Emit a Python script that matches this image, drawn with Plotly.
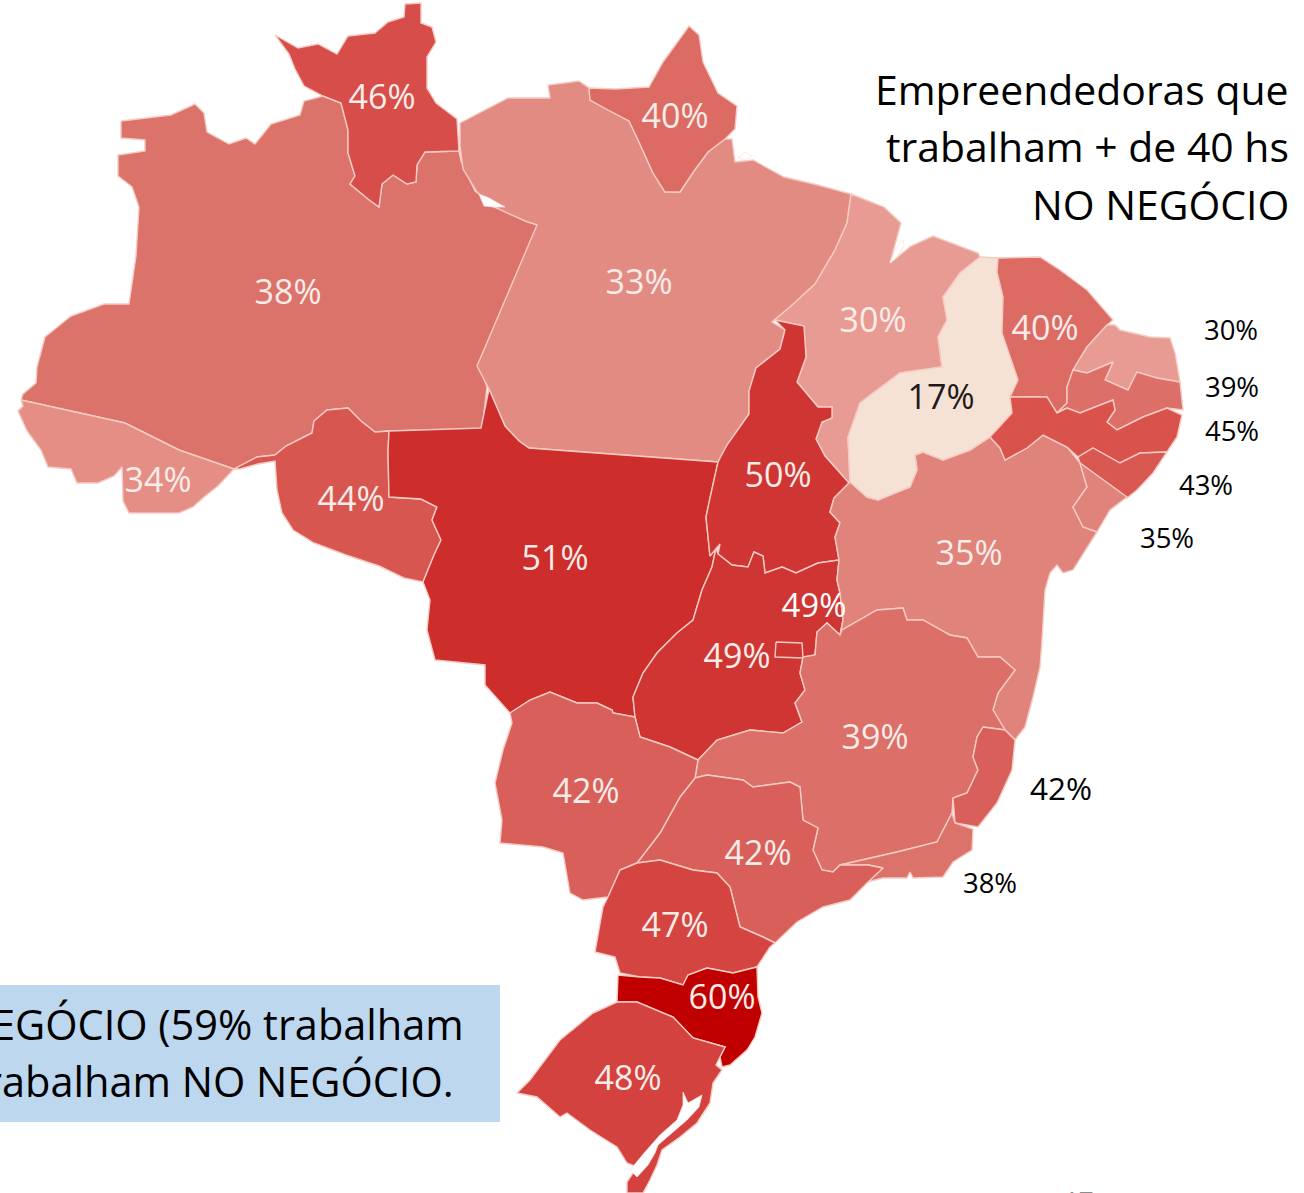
import plotly.graph_objects as go

# State outlines, in the picture's own 1304x1193 axis units
RR = [(275,35),(289,43),(298,48),(318,44),(337,54),(348,36),(375,33),(388,22),(404,17),(405,4),(421,3),(421,23),(432,27),(436,42),(427,57),(427,88),(436,103),(457,119),(459,151),(425,152),(417,165),(416,182),(407,184),(393,175),(382,184),(379,207),(368,199),(350,184),(355,176),(348,153),(348,130),(341,103),(323,96),(304,86),(295,69),(289,54)]
AM = [(121,121),(171,115),(195,104),(204,113),(207,132),(229,144),(246,138),(255,144),(271,124),(300,115),(304,101),(323,96),(341,103),(348,130),(348,153),(355,176),(350,184),(368,199),(379,207),(382,184),(393,175),(407,184),(416,182),(417,165),(425,152),(459,151),(461,161),(475,191),(500,209),(521,216),(539,226),(479,364),(487,387),(482,429),(389,431),(375,432),(361,421),(348,408),(327,410),(314,421),(312,433),(286,446),(275,455),(257,457),(234,469),(179,450),(125,423),(21,400),(23,394),(36,383),(37,367),(45,337),(71,316),(104,304),(129,304),(136,256),(139,207),(132,187),(118,176),(118,155),(145,151),(145,140),(121,138)]
AC = [(21,400),(125,423),(179,450),(234,469),(232,471),(218,486),(204,497),(193,507),(179,513),(129,513),(123,501),(122,467),(114,476),(98,483),(77,483),(71,469),(48,467),(41,450),(27,431),(18,411),(23,406)]
RO = [(275,455),(286,446),(312,433),(314,421),(327,410),(348,408),(361,421),(375,432),(389,431),(388,452),(389,497),(421,499),(437,507),(432,520),(441,540),(434,555),(423,582),(404,578),(379,566),(346,555),(314,543),(293,530),(282,513),(277,490),(275,461),(258,464),(240,469),(234,469),(257,457)]
AP = [(589,88),(615,89),(649,87),(663,62),(689,26),(699,35),(703,62),(718,93),(737,106),(735,129),(725,139),(708,152),(694,171),(680,192),(665,192),(653,173),(639,142),(629,121),(608,110),(590,100)]
PA = [(460,123),(481,112),(508,98),(550,98),(548,85),(579,81),(589,88),(590,100),(608,110),(629,121),(639,142),(653,173),(665,192),(680,192),(694,171),(708,152),(725,139),(732,139),(735,162),(753,160),(784,177),(818,185),(851,194),(847,223),(835,250),(815,284),(790,307),(772,322),(785,330),(780,349),(756,368),(749,391),(749,414),(727,445),(718,462),(529,448),(519,441),(505,426),(489,389),(477,366),(537,225),(525,221),(494,207),(477,192),(463,169),(460,146)]
MT = [(389,431),(481,428),(489,389),(505,426),(519,441),(529,448),(718,462),(710,498),(706,517),(710,556),(716,548),(712,567),(702,590),(693,620),(677,633),(657,653),(643,673),(633,697),(635,717),(613,713),(612,710),(597,703),(577,703),(550,692),(530,700),(510,713),(485,685),(485,665),(435,660),(427,630),(430,600),(423,582),(434,555),(441,540),(432,520),(437,507),(421,499),(389,497),(388,452)]
TO = [(775,320),(804,326),(806,357),(797,382),(818,407),(832,407),(832,418),(822,422),(816,439),(825,456),(849,483),(834,498),(830,512),(840,523),(835,537),(839,560),(818,563),(796,573),(782,567),(765,573),(763,556),(754,552),(748,567),(732,565),(718,554),(720,544),(710,556),(706,517),(710,498),(718,462),(727,445),(749,414),(749,391),(756,368),(780,349),(785,330)]
GO_ = [(718,554),(732,565),(748,567),(754,552),(763,556),(765,573),(782,567),(796,573),(818,563),(839,560),(837,580),(840,593),(843,620),(840,635),(827,623),(817,632),(815,655),(803,657),(800,673),(805,690),(795,703),(802,722),(783,733),(750,730),(717,740),(698,760),(670,747),(640,737),(635,717),(633,697),(643,673),(657,653),(677,633),(693,620),(702,590),(712,567),(716,548)]
DF = [(776,642),(802,643),(803,658),(775,657)]
MA = [(851,194),(884,207),(901,223),(890,263),(911,246),(933,236),(978,253),(980,257),(960,273),(943,297),(947,320),(938,337),(942,367),(900,373),(860,403),(848,437),(850,482),(849,483),(825,456),(816,439),(822,422),(832,418),(832,407),(818,407),(797,382),(806,357),(804,326),(775,320),(772,322),(790,307),(815,284),(835,250),(847,223)]
PI = [(980,257),(998,258),(997,272),(1003,297),(1002,333),(1018,380),(1010,397),(1012,413),(990,437),(970,450),(943,460),(923,452),(915,455),(917,470),(910,487),(878,500),(867,497),(850,482),(848,437),(860,403),(900,373),(942,367),(938,337),(947,320),(943,297),(960,273)]
CE = [(998,258),(1040,257),(1060,270),(1087,290),(1113,320),(1107,325),(1087,347),(1073,370),(1067,387),(1067,403),(1057,413),(1047,397),(1010,397),(1018,380),(1002,333),(1003,297),(997,272)]
RN = [(1073,370),(1087,347),(1107,325),(1115,325),(1120,330),(1150,337),(1170,338),(1175,353),(1180,382),(1157,378),(1137,372),(1128,390),(1105,380),(1113,362),(1087,373)]
PB = [(1057,413),(1067,403),(1067,387),(1073,370),(1087,373),(1113,362),(1105,380),(1128,390),(1137,372),(1157,378),(1180,382),(1183,410),(1167,408),(1143,417),(1117,430),(1107,422),(1115,410),(1113,400),(1080,413),(1067,408)]
PE = [(990,437),(1012,413),(1010,397),(1047,397),(1057,413),(1067,408),(1080,413),(1113,400),(1115,410),(1107,422),(1117,430),(1143,417),(1167,408),(1182,415),(1177,437),(1167,452),(1140,453),(1120,463),(1093,448),(1078,457),(1067,447),(1043,435),(1027,448),(1005,460),(1000,448)]
AL = [(1078,457),(1093,448),(1120,463),(1140,453),(1167,452),(1153,473),(1137,490),(1127,498),(1080,463)]
SE = [(1080,463),(1127,497),(1110,510),(1097,532),(1083,527),(1073,507),(1087,487)]
BA = [(850,482),(867,497),(878,500),(910,487),(917,470),(915,455),(923,452),(943,460),(970,450),(990,437),(1000,448),(1005,460),(1027,448),(1043,435),(1067,447),(1080,463),(1087,487),(1073,507),(1083,527),(1097,532),(1090,543),(1073,570),(1063,573),(1057,565),(1050,573),(1045,590),(1042,640),(1040,667),(1033,697),(1025,727),(1015,740),(1005,730),(993,710),(998,693),(1015,670),(1000,657),(978,657),(967,638),(950,635),(923,620),(907,620),(903,608),(877,610),(842,630),(840,635),(843,620),(840,593),(837,580),(839,560),(835,537),(840,523),(830,512),(834,498)]
MG = [(698,760),(717,740),(750,730),(783,733),(802,722),(795,703),(805,690),(800,673),(803,657),(815,655),(817,632),(827,623),(840,635),(842,630),(877,610),(903,608),(907,620),(923,620),(950,635),(967,638),(978,657),(1000,657),(1015,670),(998,693),(993,710),(1005,730),(983,727),(977,737),(973,757),(978,770),(967,793),(953,798),(952,813),(937,842),(897,852),(840,865),(833,872),(822,870),(813,850),(818,828),(803,820),(800,787),(790,782),(753,787),(743,780),(707,775),(695,778)]
ES = [(983,727),(1005,730),(1015,740),(1012,770),(997,803),(978,827),(955,823),(953,798),(967,793),(978,770),(973,757),(977,737)]
RJ = [(952,813),(955,823),(973,829),(972,850),(953,862),(943,877),(913,878),(910,872),(907,878),(883,878),(867,882),(883,868),(868,865),(840,865),(897,852),(937,842)]
SP = [(695,778),(707,775),(743,780),(753,787),(790,782),(800,787),(803,820),(818,828),(813,850),(822,870),(833,872),(840,865),(868,865),(883,868),(867,883),(850,900),(823,907),(797,922),(775,943),(763,937),(740,927),(730,887),(717,873),(693,870),(660,860),(637,863),(660,833),(680,797)]
MS = [(510,713),(530,700),(550,692),(577,703),(597,703),(612,710),(613,713),(635,717),(640,737),(670,747),(698,760),(695,778),(680,797),(660,833),(637,863),(620,870),(608,897),(583,900),(570,893),(563,853),(543,847),(500,843),(502,820),(495,783),(503,750),(512,723)]
PR = [(637,863),(660,860),(693,870),(717,873),(730,887),(740,927),(763,937),(775,943),(770,947),(757,967),(733,973),(707,968),(688,975),(683,985),(660,978),(640,977),(620,973),(615,957),(595,952),(603,907),(608,897),(620,870)]
SC = [(618,975),(640,977),(660,978),(683,985),(688,975),(707,968),(733,973),(757,967),(758,997),(762,1013),(755,1037),(747,1050),(730,1065),(722,1067),(720,1057),(725,1047),(693,1038),(673,1017),(637,1002),(617,1002)]
RS = [(617,1002),(637,1002),(673,1017),(693,1038),(725,1047),(720,1057),(716,1065),(722,1070),(713,1083),(710,1103),(697,1123),(680,1137),(662,1150),(657,1165),(650,1180),(643,1193),(627,1193),(627,1182),(637,1167),(627,1163),(617,1147),(590,1130),(567,1113),(560,1117),(537,1097),(517,1093),(530,1080),(560,1040),(593,1013)]
LAGOA = [(683,1092),(688,1103),(702,1095),(699,1107),(687,1120),(670,1135),(658,1145),(655,1153),(648,1165),(637,1177),(630,1170),(645,1152),(660,1135),(677,1120),(683,1105)]
RIO_NEGRO = [(479,194),(489,198),(505,207),(493,207),(484,206)]
MARAJO = [(738,158),(745,152),(752,156),(745,160)]
SAO_MARCOS = [(890,263),(896,248),(903,240),(904,246),(897,257)]

states = ["Amazonas","Roraima","Acre","Rondônia","Pará","Amapá","Mato Grosso","Maranhão","Tocantins","Goiás","Distrito Federal","Bahia","Piauí","Ceará","Rio Grande do Norte","Paraíba","Pernambuco","Alagoas","Sergipe","Minas Gerais","Espírito Santo","Rio de Janeiro","São Paulo","Mato Grosso do Sul","Paraná","Santa Catarina","Rio Grande do Sul"]
outlines = [AM,RR,AC,RO,PA,AP,MT,MA,TO,GO_,DF,BA,PI,CE,RN,PB,PE,AL,SE,MG,ES,RJ,SP,MS,PR,SC,RS]
shares = [38,46,34,44,33,40,51,30,50,49,49,35,17,40,30,39,45,43,35,39,42,38,42,42,47,60,48]
share_colours = {17:"#F6E1D5",30:"#E89B93",33:"#E28B83",34:"#E58E86",35:"#E0837B",38:"#DC736B",39:"#DC6F68",40:"#DC6B64",42:"#D9605A",43:"#D95851",44:"#D85650",45:"#D9534C",46:"#D64D4A",47:"#D44542",48:"#D3423F",49:"#CF3533",50:"#CF3533",51:"#CD2E2C",60:"#C00000"}

inner_labels = ["46%","40%","38%","33%","30%","40%","34%","44%","51%","50%","35%","49%","39%","42%","42%","47%","60%","48%"]
inner_x = [382,675,288,639,873,1045,158,351,555,778,969,737,875,586,758,675,722,628]
inner_y = [100,119,295,285,323,331,483,502,561,478,556,659,740,794,856,928,1000,1081]
side_labels = ["30%","39%","45%","43%","35%","38%"]
side_x = [1231,1232,1232,1206,1167,990]
side_y = [333,390,434,488,541,886]
title_lines = ["Empreendedoras que","trabalham + de 40 hs","NO NEGÓCIO"]
title_y = [89,146,204]
box_lines = ["EGÓCIO (59% trabalham","rabalham NO NEGÓCIO."]
box_right = [466,456]
box_y = [1024,1081]

FONT = "'Open Sans', sans-serif"
BORDER = "#F5CBC2"

fig = go.Figure()
for name, outline, share in zip(states, outlines, shares):
    pts = outline + outline[:1]
    fig.add_trace(go.Scatter(x=[p[0] for p in pts], y=[p[1] for p in pts], mode="lines", fill="toself",
                             fillcolor=share_colours[share], line=dict(color=BORDER, width=1.4),
                             name=name, text=f"{name}: {share}%", hoverinfo="text", showlegend=False))
for water in (LAGOA, RIO_NEGRO, MARAJO, SAO_MARCOS):
    pts = water + water[:1]
    fig.add_trace(go.Scatter(x=[p[0] for p in pts], y=[p[1] for p in pts], mode="lines", fill="toself",
                             fillcolor="#FFFFFF", line=dict(color="#FBE3DE", width=0.8),
                             hoverinfo="skip", showlegend=False))

fig.add_trace(go.Scatter(x=inner_x, y=inner_y, mode="text", text=inner_labels, hoverinfo="skip", showlegend=False,
                         textfont=dict(family=FONT, size=34, color="#F8ECE8")))
fig.add_trace(go.Scatter(x=[941], y=[400], mode="text", text=["17%"], hoverinfo="skip", showlegend=False,
                         textfont=dict(family=FONT, size=34, color="#1E1A18")))
fig.add_trace(go.Scatter(x=[814], y=[609], mode="text", text=["49%"], hoverinfo="skip", showlegend=False,
                         textfont=dict(family=FONT, size=33, color="#FFFFFF")))
fig.add_trace(go.Scatter(x=side_x, y=side_y, mode="text", text=side_labels, hoverinfo="skip", showlegend=False,
                         textfont=dict(family=FONT, size=27.5, color="#000000")))
fig.add_trace(go.Scatter(x=[1061], y=[792], mode="text", text=["42%"], hoverinfo="skip", showlegend=False,
                         textfont=dict(family=FONT, size=31.5, color="#000000")))

annotations = [dict(x=1291, y=yy, text=t, xanchor="right", yanchor="middle", showarrow=False,
                    font=dict(family=FONT, size=40.9, color="#000000")) for t, yy in zip(title_lines, title_y)]
annotations += [dict(x=xx, y=yy, text=t, xanchor="right", yanchor="middle", showarrow=False,
                     font=dict(family=FONT, size=41.5, color="#000000")) for t, xx, yy in zip(box_lines, box_right, box_y)]
annotations.append(dict(x=1079, y=1192, text="17", xanchor="center", yanchor="middle", showarrow=False, yshift=-8,
                        font=dict(family=FONT, size=26, color="#8C8C8C")))

fig.update_layout(
    width=1304, height=1193, margin=dict(l=0, r=0, t=0, b=0),
    paper_bgcolor="#FFFFFF", plot_bgcolor="#FFFFFF",
    xaxis=dict(range=[0,1304], visible=False, fixedrange=True),
    yaxis=dict(range=[1193,0], visible=False, fixedrange=True),
    annotations=annotations,
    shapes=[dict(type="rect", xref="x", yref="y", x0=0, x1=500, y0=985, y1=1122,
                 fillcolor="#BDD7EE", line=dict(width=0), layer="below")],
)
fig.write_html("out.html", config={"displayModeBar": False},
               post_script="document.body.style.margin='0';document.body.style.overflow='hidden';")
